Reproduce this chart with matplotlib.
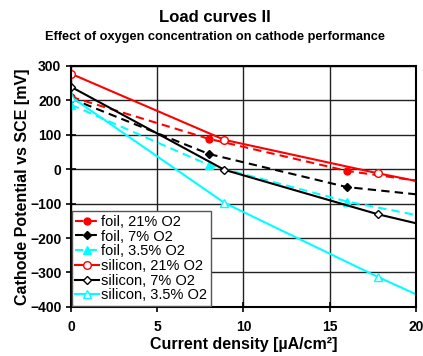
import matplotlib.pyplot as plt

plt.rcParams['font.family'] = ['Liberation Sans', 'DejaVu Sans']

# foil series (last value is where the line meets the right edge, no marker)
foil_x = [0, 8, 16, 20]
foil_21 = [210, 88, -5, -33]
foil_7 = [205, 44, -52, -73]
foil_35 = [187, 12, -94, -133]

# silicon series
si_x = [0, 8.9, 17.8, 20]
si_21 = [277, 85, -12, -34]
si_7 = [239, -2, -131, -157]
si_35 = [210, -98, -313, -363]

x_ticks = [0, 5, 10, 15, 20]
y_ticks = [300, 200, 100, 0, -100, -200, -300, -400]

fig = plt.figure(figsize=(4.23, 3.56), dpi=100)
ax = fig.add_axes([0.168, 0.138, 0.815, 0.677])

mk = slice(0, 3)
dash = (4, 2.5)
ax.plot(foil_x, foil_21, color='red', lw=1.5, dashes=dash, marker='o', ms=5,
        markevery=mk, label='foil, 21% O2')
ax.plot(foil_x, foil_7, color='black', lw=1.5, dashes=dash, marker='D', ms=4,
        markevery=mk, label='foil, 7% O2')
ax.plot(foil_x, foil_35, color='cyan', lw=1.5, dashes=dash, marker='^', ms=6,
        markevery=mk, label='foil, 3.5% O2')
ax.plot(si_x, si_21, color='red', lw=1.5, marker='o', ms=5.5, mfc='white',
        markevery=mk, label='silicon, 21% O2')
ax.plot(si_x, si_7, color='black', lw=1.5, marker='D', ms=4, mfc='white',
        markevery=mk, label='silicon, 7% O2')
ax.plot(si_x, si_35, color='cyan', lw=1.5, marker='^', ms=6, mfc='white',
        markevery=mk, label='silicon, 3.5% O2')

ax.set_xlim(0, 20)
ax.set_ylim(-400, 300)
ax.set_xticks(x_ticks)
ax.set_yticks(y_ticks)
ax.grid(True, color='#222222', lw=1)
ax.set_axisbelow(True)
for s in ax.spines.values():
    s.set_linewidth(1.5)
ax.tick_params(direction='inout', length=7, width=1.2, labelsize=10)
for lab in ax.get_xticklabels() + ax.get_yticklabels():
    lab.set_fontweight('bold')
ax.tick_params(axis='x', pad=6)

ax.set_xlabel('Current density [µA/cm²]', fontsize=11.5, fontweight='bold', labelpad=2)
ax.set_ylabel('Cathode Potential vs SCE [mV]', fontsize=11.5, fontweight='bold', labelpad=0)

fig.text(0.508, 0.952, 'Load curves II', ha='center', va='center',
         fontsize=12, fontweight='bold')
fig.text(0.508, 0.896, 'Effect of oxygen concentration on cathode performance',
         ha='center', va='center', fontsize=9.2, fontweight='bold')

leg = ax.legend(loc='lower left', fontsize=10.5, frameon=True, fancybox=False,
                edgecolor='#555555', framealpha=1, borderpad=0.25,
                labelspacing=0.05, handlelength=1.6, handletextpad=0.15,
                borderaxespad=0.05)
leg.get_frame().set_linewidth(1)

fig.savefig('out.png', dpi=100)
